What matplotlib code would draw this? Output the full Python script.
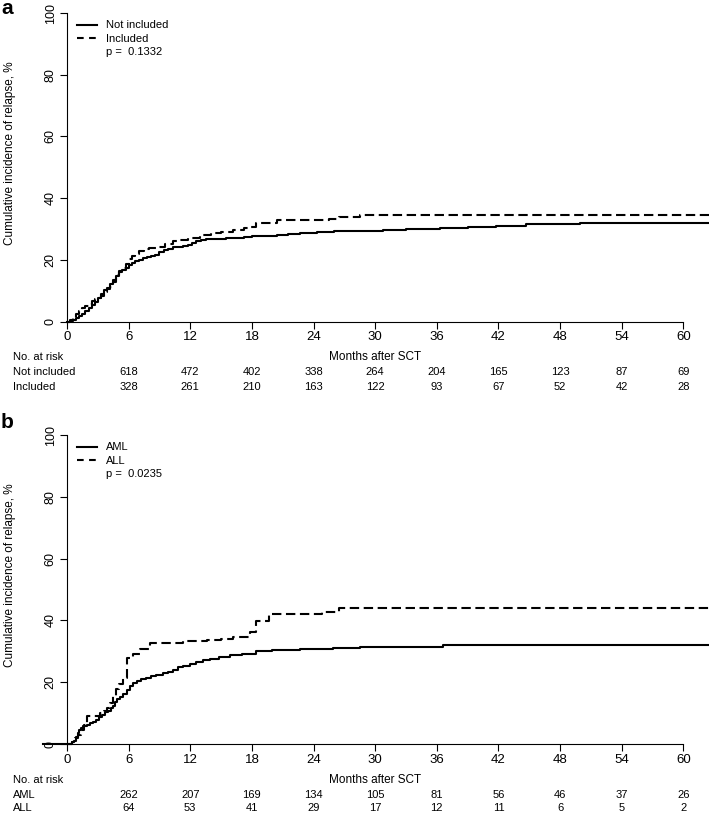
import matplotlib
matplotlib.use("Agg")
import matplotlib.pyplot as plt
from matplotlib.lines import Line2D
import matplotlib.transforms as mtransforms

plt.rcParams['font.family'] = ['Liberation Sans', 'DejaVu Sans']
plt.rcParams['font.size'] = 8

W, H = 709, 813

# panel a: Not included / Included
a_not_t = [0, 0.3, 0.6, 0.9, 1.2, 1.5, 1.8, 2.1, 2.4, 2.7, 3.0, 3.3, 3.6, 3.9, 4.2, 4.5, 4.8, 5.1,
           5.4, 5.7, 6.0, 6.3, 6.6, 7.0, 7.4, 7.8, 8.2, 8.6, 9.0, 9.4, 9.8, 10.3, 10.8, 11.3, 11.8,
           12.2, 12.6, 13.0, 13.5, 14.5, 15.5, 16.5, 17.2, 18.0, 20.4, 21.5, 22.7, 24.3, 26.0,
           28.5, 30.8, 33.0, 36.3, 39.0, 41.8, 44.7, 49.9, 62.5]
a_not_v = [0, 0.2, 0.6, 1.2, 1.9, 2.6, 3.4, 4.3, 5.3, 6.4, 7.6, 9.0, 10.2, 11.0, 12.2, 13.5, 14.8, 16.2,
           16.8, 17.5, 18.3, 19.0, 19.6, 20.1, 20.5, 20.9, 21.2, 21.6, 22.6, 23.2, 23.6, 24.1, 24.3, 24.6, 25.0,
           25.5, 26.0, 26.5, 26.7, 26.8, 27.0, 27.2, 27.5, 27.7, 28.1, 28.5, 28.8, 29.2, 29.4,
           29.5, 29.8, 30.0, 30.3, 30.6, 31.0, 31.5, 31.9, 31.9]
a_inc_t = [0, 0.3, 0.6, 0.9, 1.2, 1.5, 1.8, 2.1, 2.4, 2.7, 3.0, 3.3, 3.6, 3.9, 4.2, 4.5, 4.8, 5.1,
           5.4, 5.7, 6.0, 6.3, 6.6, 7.0, 7.5, 8.0, 8.7, 9.5, 10.3, 11.0, 11.8, 12.9, 14.0, 15.0,
           16.2, 17.2, 17.8, 18.4, 20.4, 24.3, 25.5, 26.5, 28.5, 62.5]
a_inc_v = [0, 0.4, 1.2, 2.4, 3.5, 4.3, 5.0, 5.8, 6.6, 7.3, 7.8, 8.4, 9.5, 10.5, 11.4, 13.0, 15.0, 16.3,
           17.3, 18.6, 20.3, 21.3, 22.0, 22.8, 23.4, 23.8, 24.3, 25.2, 26.0, 26.6, 27.2, 28.1, 28.6, 29.0,
           29.7, 30.2, 30.8, 32.1, 32.8, 33.0, 33.4, 33.8, 34.5, 34.5]

# panel b: AML / ALL
b_aml_t = [-2.3, 0.45, 0.7, 0.9, 1.05, 1.2, 1.35, 1.6, 1.9, 2.2, 2.5, 2.8, 3.1, 3.4, 3.7, 4.0, 4.3,
           4.5, 4.7, 4.9, 5.2, 5.5, 5.8, 6.1, 6.4, 6.8, 7.2, 7.7, 8.2, 8.7, 9.3, 9.8, 10.3, 10.8,
           11.3, 12.0, 12.6, 13.2, 13.9, 14.8, 15.9, 17.0, 17.8, 18.4, 20.0, 22.7, 25.9, 28.5,
           30.5, 36.6, 62.5]
b_aml_v = [0, 0.5, 1.0, 2.2, 3.5, 4.6, 5.3, 5.8, 6.3, 6.8, 7.2, 7.8, 8.6, 9.4, 10.2, 10.8, 11.5,
           12.4, 13.6, 14.6, 15.3, 16.1, 17.5, 18.8, 19.7, 20.4, 21.0, 21.5, 22.0, 22.4, 22.9, 23.4, 24.1, 24.8,
           25.3, 26.0, 26.6, 27.1, 27.6, 28.1, 28.7, 29.0, 29.2, 30.0, 30.3, 30.7, 31.0, 31.4,
           31.5, 32.1, 32.1]
b_all_t = [0, 0.45, 0.8, 1.1, 1.4, 1.7, 1.9, 3.2, 3.6, 3.86, 4.2, 4.5, 4.8, 5.1, 5.5, 5.8, 6.45,
           7.1, 8.07, 11.3, 13.6, 15.0, 16.2, 17.8, 18.4, 19.7, 24.8, 26.5, 62.5]
b_all_v = [0, 0.5, 1.8, 3.0, 4.5, 6.0, 8.9, 10.0, 10.8, 11.6, 13.3, 15.4, 17.8, 19.5, 21.4, 27.9, 29.0,
           30.7, 32.8, 33.4, 33.6, 34.0, 34.5, 36.1, 39.9, 42.1, 42.6, 44.0, 44.0]

risk_months = [6, 12, 18, 24, 30, 36, 42, 48, 54, 60]
risk_not = [618, 472, 402, 338, 264, 204, 165, 123, 87, 69]
risk_inc = [328, 261, 210, 163, 122, 93, 67, 52, 42, 28]
risk_aml = [262, 207, 169, 134, 105, 81, 56, 46, 37, 26]
risk_all = [64, 53, 41, 29, 17, 12, 11, 6, 5, 2]

fig = plt.figure(figsize=(W / 100, H / 100), dpi=100)


def fx(x):
    return x / W


def fy(y):
    return 1 - y / H


def panel(top, bottom, letter, letter_y, curves, names, pval, rows, row_y):
    ax = fig.add_axes([fx(67), fy(bottom), fx(W - 67), (bottom - top) / H])
    for (t, v), ls in zip(curves, ['solid', 'dashed']):
        ln, = ax.step(t, v, where='post', color='black', lw=1.5, clip_on=False)
        if ls == 'dashed':
            ln.set_dashes((4.5, 2.2))
    ax.set_xlim(0, 62.5)
    ax.set_ylim(0, 100)
    for s in ['top', 'right']:
        ax.spines[s].set_visible(False)
    ax.spines['bottom'].set_bounds(0, 60)
    ax.spines['left'].set_bounds(0, 100)
    ax.set_xticks(range(0, 61, 6))
    ax.set_yticks(range(0, 101, 20))
    ax.tick_params(direction='out', length=5, width=0.8, pad=2)
    ax.tick_params(axis='x', labelsize=9.5)
    ax.tick_params(axis='y', labelrotation=90, pad=2.5, labelsize=9)
    for lab in ax.get_yticklabels():
        lab.set_va('center')

    # legend
    for i, name in enumerate(names):
        yy = top + 12 + 13.5 * i
        line = Line2D([fx(77), fx(97)], [fy(yy), fy(yy)], transform=fig.transFigure,
                      color='black', lw=1.5)
        if i == 1:
            line.set_dashes((3.2, 2.6))
        fig.add_artist(line)
        fig.text(fx(106), fy(yy), name, va='center', ha='left', fontsize=8)
    fig.text(fx(106), fy(top + 39), 'p =  ' + pval, va='center', ha='left', fontsize=8)

    fig.text(fx(1), fy(letter_y), letter, fontsize=15, fontweight='bold', va='center', ha='left')
    fig.text(fx(10), fy((top + bottom) / 2 - 14), 'Cumulative incidence of relapse, %',
             rotation=90, va='center', ha='center', fontsize=8.5)

    trans = mtransforms.blended_transform_factory(ax.transData, fig.transFigure)
    fig.text(fx(13), fy(row_y[0]), 'No. at risk', va='center', ha='left', fontsize=8)
    ax.text(30, fy(row_y[0]), 'Months after SCT', transform=trans, va='center', ha='center',
            fontsize=8.5)
    for (label, counts), yy in zip(rows, row_y[1:]):
        fig.text(fx(13), fy(yy), label, va='center', ha='left', fontsize=8)
        for m, c in zip(risk_months, counts):
            ax.text(m, fy(yy), str(c), transform=trans, va='center', ha='center', fontsize=8)
    return ax


panel(13, 321.7, 'a', 9,
      [(a_not_t, a_not_v), (a_inc_t, a_inc_v)], ['Not included', 'Included'], '0.1332',
      [('Not included', risk_not), ('Included', risk_inc)], [357, 372, 387])
panel(435, 744, 'b', 423,
      [(b_aml_t, b_aml_v), (b_all_t, b_all_v)], ['AML', 'ALL'], '0.0235',
      [('AML', risk_aml), ('ALL', risk_all)], [780, 795, 808])

fig.savefig('out.png', dpi=100)
